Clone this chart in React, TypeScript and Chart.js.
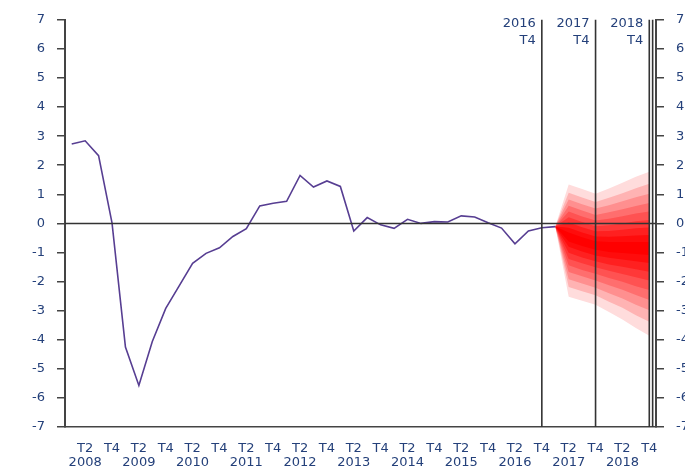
import React, { useEffect, useRef } from 'react';
import { Chart, registerables } from 'chart.js';

Chart.register(...registerables);

// ---------- DATA ----------
const years = [2008, 2009, 2010, 2011, 2012, 2013, 2014, 2015, 2016, 2017, 2018];
const quarters = ['T1', 'T2', 'T3', 'T4'];
const categories = years.flatMap((y) => quarters.map((q) => `${y} ${q}`));

// Observed series 2008 T1 .. 2017 T1
const history = [
  2.73, 2.84, 2.33, 0.02,
  -4.25, -5.57, -4.06, -2.92,
  -2.15, -1.37, -1.03, -0.84,
  -0.45, -0.18, 0.6, 0.69,
  0.76, 1.65, 1.25, 1.46,
  1.27, -0.26, 0.2, -0.05,
  -0.17, 0.14, 0.0, 0.06,
  0.05, 0.26, 0.22, 0.02,
  -0.16, -0.7, -0.26, -0.15,
  -0.11,
];

// Fan chart (2017 T1 .. 2018 T4), band bounds from innermost (1) to outermost (9)
const fanStart = '2017 T1';
const upper1 = [-0.11, -0.31, -0.48, -0.61, -0.64, -0.64, -0.64, -0.64];
const upper2 = [-0.11, -0.15, -0.31, -0.45, -0.46, -0.44, -0.42, -0.4];
const upper3 = [-0.11, 0.03, -0.13, -0.27, -0.26, -0.22, -0.17, -0.14];
const upper4 = [-0.11, 0.21, 0.05, -0.1, -0.06, 0.0, 0.07, 0.12];
const upper5 = [-0.11, 0.41, 0.24, 0.1, 0.16, 0.25, 0.34, 0.41];
const upper6 = [-0.11, 0.61, 0.44, 0.29, 0.38, 0.49, 0.6, 0.7];
const upper7 = [-0.11, 0.82, 0.66, 0.51, 0.62, 0.76, 0.9, 1.02];
const upper8 = [-0.11, 1.05, 0.89, 0.74, 0.88, 1.04, 1.21, 1.36];
const upper9 = [-0.11, 1.34, 1.18, 1.02, 1.2, 1.4, 1.6, 1.78];
const lower1 = [-0.11, -0.62, -0.78, -0.91, -0.98, -1.02, -1.05, -1.09];
const lower2 = [-0.11, -0.8, -0.97, -1.1, -1.18, -1.24, -1.3, -1.36];
const lower3 = [-0.11, -1.01, -1.17, -1.3, -1.41, -1.49, -1.58, -1.66];
const lower4 = [-0.11, -1.22, -1.37, -1.51, -1.63, -1.74, -1.85, -1.96];
const lower5 = [-0.11, -1.44, -1.6, -1.73, -1.88, -2.01, -2.16, -2.29];
const lower6 = [-0.11, -1.67, -1.82, -1.96, -2.13, -2.28, -2.46, -2.63];
const lower7 = [-0.11, -1.92, -2.07, -2.21, -2.4, -2.58, -2.8, -2.99];
const lower8 = [-0.11, -2.19, -2.33, -2.47, -2.69, -2.9, -3.16, -3.38];
const lower9 = [-0.11, -2.52, -2.66, -2.8, -3.05, -3.3, -3.6, -3.86];

const fanUppers = [upper1, upper2, upper3, upper4, upper5, upper6, upper7, upper8, upper9];
const fanLowers = [lower1, lower2, lower3, lower4, lower5, lower6, lower7, lower8, lower9];
const fanColors = ['#ff0000', '#ff0c0c', '#ff2020', '#ff3838', '#ff5252', '#ff6e6e', '#ff8f8f', '#ffb3b3', '#ffdcdc'];

// Vertical markers
const markerCats = ['2016 T4', '2017 T4', '2018 T4'];
const markerTexts = [['2016', 'T4'], ['2017', 'T4'], ['2018', 'T4']];

const yMin = -7;
const yMax = 7;

// ---------- STYLE ----------
const FONT = 'DejaVu Sans';
const TEXT = '#24407a';
const AXIS = '#444444';

const pad = (arr: number[], startIdx: number) =>
  categories.map((_, i) => (i >= startIdx && i < startIdx + arr.length ? arr[i - startIdx] : null));

const overlayPlugin = {
  id: 'overlay',
  afterDatasetsDraw(chart: any) {
    const { ctx, chartArea, scales } = chart;
    const x = scales.x;
    const y = scales.y;
    ctx.save();
    // zero line
    const y0 = Math.round(y.getPixelForValue(0)) + 0.5;
    ctx.strokeStyle = '#333333';
    ctx.lineWidth = 1.3;
    ctx.beginPath();
    ctx.moveTo(chartArea.left, y0);
    ctx.lineTo(chartArea.right, y0);
    ctx.stroke();
    // vertical markers
    ctx.lineWidth = 1.6;
    ctx.strokeStyle = '#333333';
    ctx.font = `13px "${FONT}"`;
    ctx.fillStyle = TEXT;
    ctx.textAlign = 'right';
    ctx.textBaseline = 'middle';
    markerCats.forEach((cat, k) => {
      const px = x.getPixelForValue(categories.indexOf(cat));
      ctx.beginPath();
      ctx.moveTo(px, chartArea.top);
      ctx.lineTo(px, chartArea.bottom);
      ctx.stroke();
      ctx.fillText(markerTexts[k][0], px - 6, chartArea.top + 4);
      ctx.fillText(markerTexts[k][1], px - 6, chartArea.top + 21);
    });
    // closing line after the last quarter
    const pxEnd = x.getPixelForValue(categories.length - 1 + 0.25);
    ctx.beginPath();
    ctx.moveTo(pxEnd, chartArea.top);
    ctx.lineTo(pxEnd, chartArea.bottom);
    ctx.stroke();
    ctx.restore();
  },
};

export default function App() {
  const canvasRef = useRef<HTMLCanvasElement | null>(null);

  useEffect(() => {
    if (!canvasRef.current) return;
    const startIdx = categories.indexOf(fanStart);
    const datasets: any[] = [
      {
        label: 'history',
        data: pad(history, 0),
        borderColor: '#573e92',
        borderWidth: 1.6,
        pointRadius: 0,
        fill: false,
        spanGaps: false,
        yAxisID: 'y',
      },
    ];
    fanUppers.forEach((up, k) => {
      datasets.push({
        label: `up${k + 1}`,
        data: pad(up, startIdx),
        borderColor: 'rgba(0,0,0,0)',
        borderWidth: 0,
        pointRadius: 0,
        backgroundColor: fanColors[k],
        fill: '+1',
        yAxisID: 'y',
      });
      datasets.push({
        label: `lo${k + 1}`,
        data: pad(fanLowers[k], startIdx),
        borderColor: 'rgba(0,0,0,0)',
        borderWidth: 0,
        pointRadius: 0,
        fill: false,
        yAxisID: 'y',
      });
    });

    const yTicks = {
      stepSize: 1,
      padding: 12,
      color: TEXT,
      font: { family: FONT, size: 13 },
    };

    const chart = new Chart(canvasRef.current, {
      type: 'line',
      data: { labels: categories, datasets },
      options: {
        responsive: false,
        maintainAspectRatio: false,
        animation: false,
        layout: { padding: { top: 16, left: 0, right: 0, bottom: 0 } },
        elements: { line: { tension: 0 }, point: { radius: 0 } },
        plugins: {
          legend: { display: false },
          tooltip: { enabled: false },
        },
        scales: {
          x: {
            type: 'category',
            offset: true,
            grid: { display: false },
            border: { display: true, color: AXIS, width: 1.5 },
            ticks: {
              autoSkip: false,
              maxRotation: 0,
              minRotation: 0,
              padding: 6,
              color: TEXT,
              font: { family: FONT, size: 13, lineHeight: 1.1 },
              callback: (_v: any, i: number) => {
                const [yr, q] = categories[i].split(' ');
                if (q === 'T2') return ['T2', yr];
                if (q === 'T4') return ['T4', ''];
                return '';
              },
            },
            afterFit: (s: any) => {
              s.height = 42;
            },
          },
          y: {
            position: 'left',
            min: yMin,
            max: yMax,
            ticks: yTicks,
            grid: { drawOnChartArea: false, drawTicks: true, tickLength: 8, color: AXIS, lineWidth: 1.5 },
            border: { display: true, color: AXIS, width: 2 },
            afterFit: (s: any) => {
              s.width = 65;
            },
          },
          y2: {
            position: 'right',
            min: yMin,
            max: yMax,
            ticks: yTicks,
            grid: { drawOnChartArea: false, drawTicks: true, tickLength: 8, color: AXIS, lineWidth: 1.5 },
            border: { display: true, color: AXIS, width: 2 },
            afterFit: (s: any) => {
              s.width = 64;
            },
          },
        },
      },
      plugins: [overlayPlugin],
    });
    return () => chart.destroy();
  }, []);

  return (
    <div
      style={{
        position: 'fixed',
        left: 0,
        top: 0,
        width: 685,
        height: 469,
        overflow: 'hidden',
        background: '#ffffff',
      }}
    >
      <canvas ref={canvasRef} width={720} height={469} style={{ width: 720, height: 469, display: 'block' }} />
    </div>
  );
}
